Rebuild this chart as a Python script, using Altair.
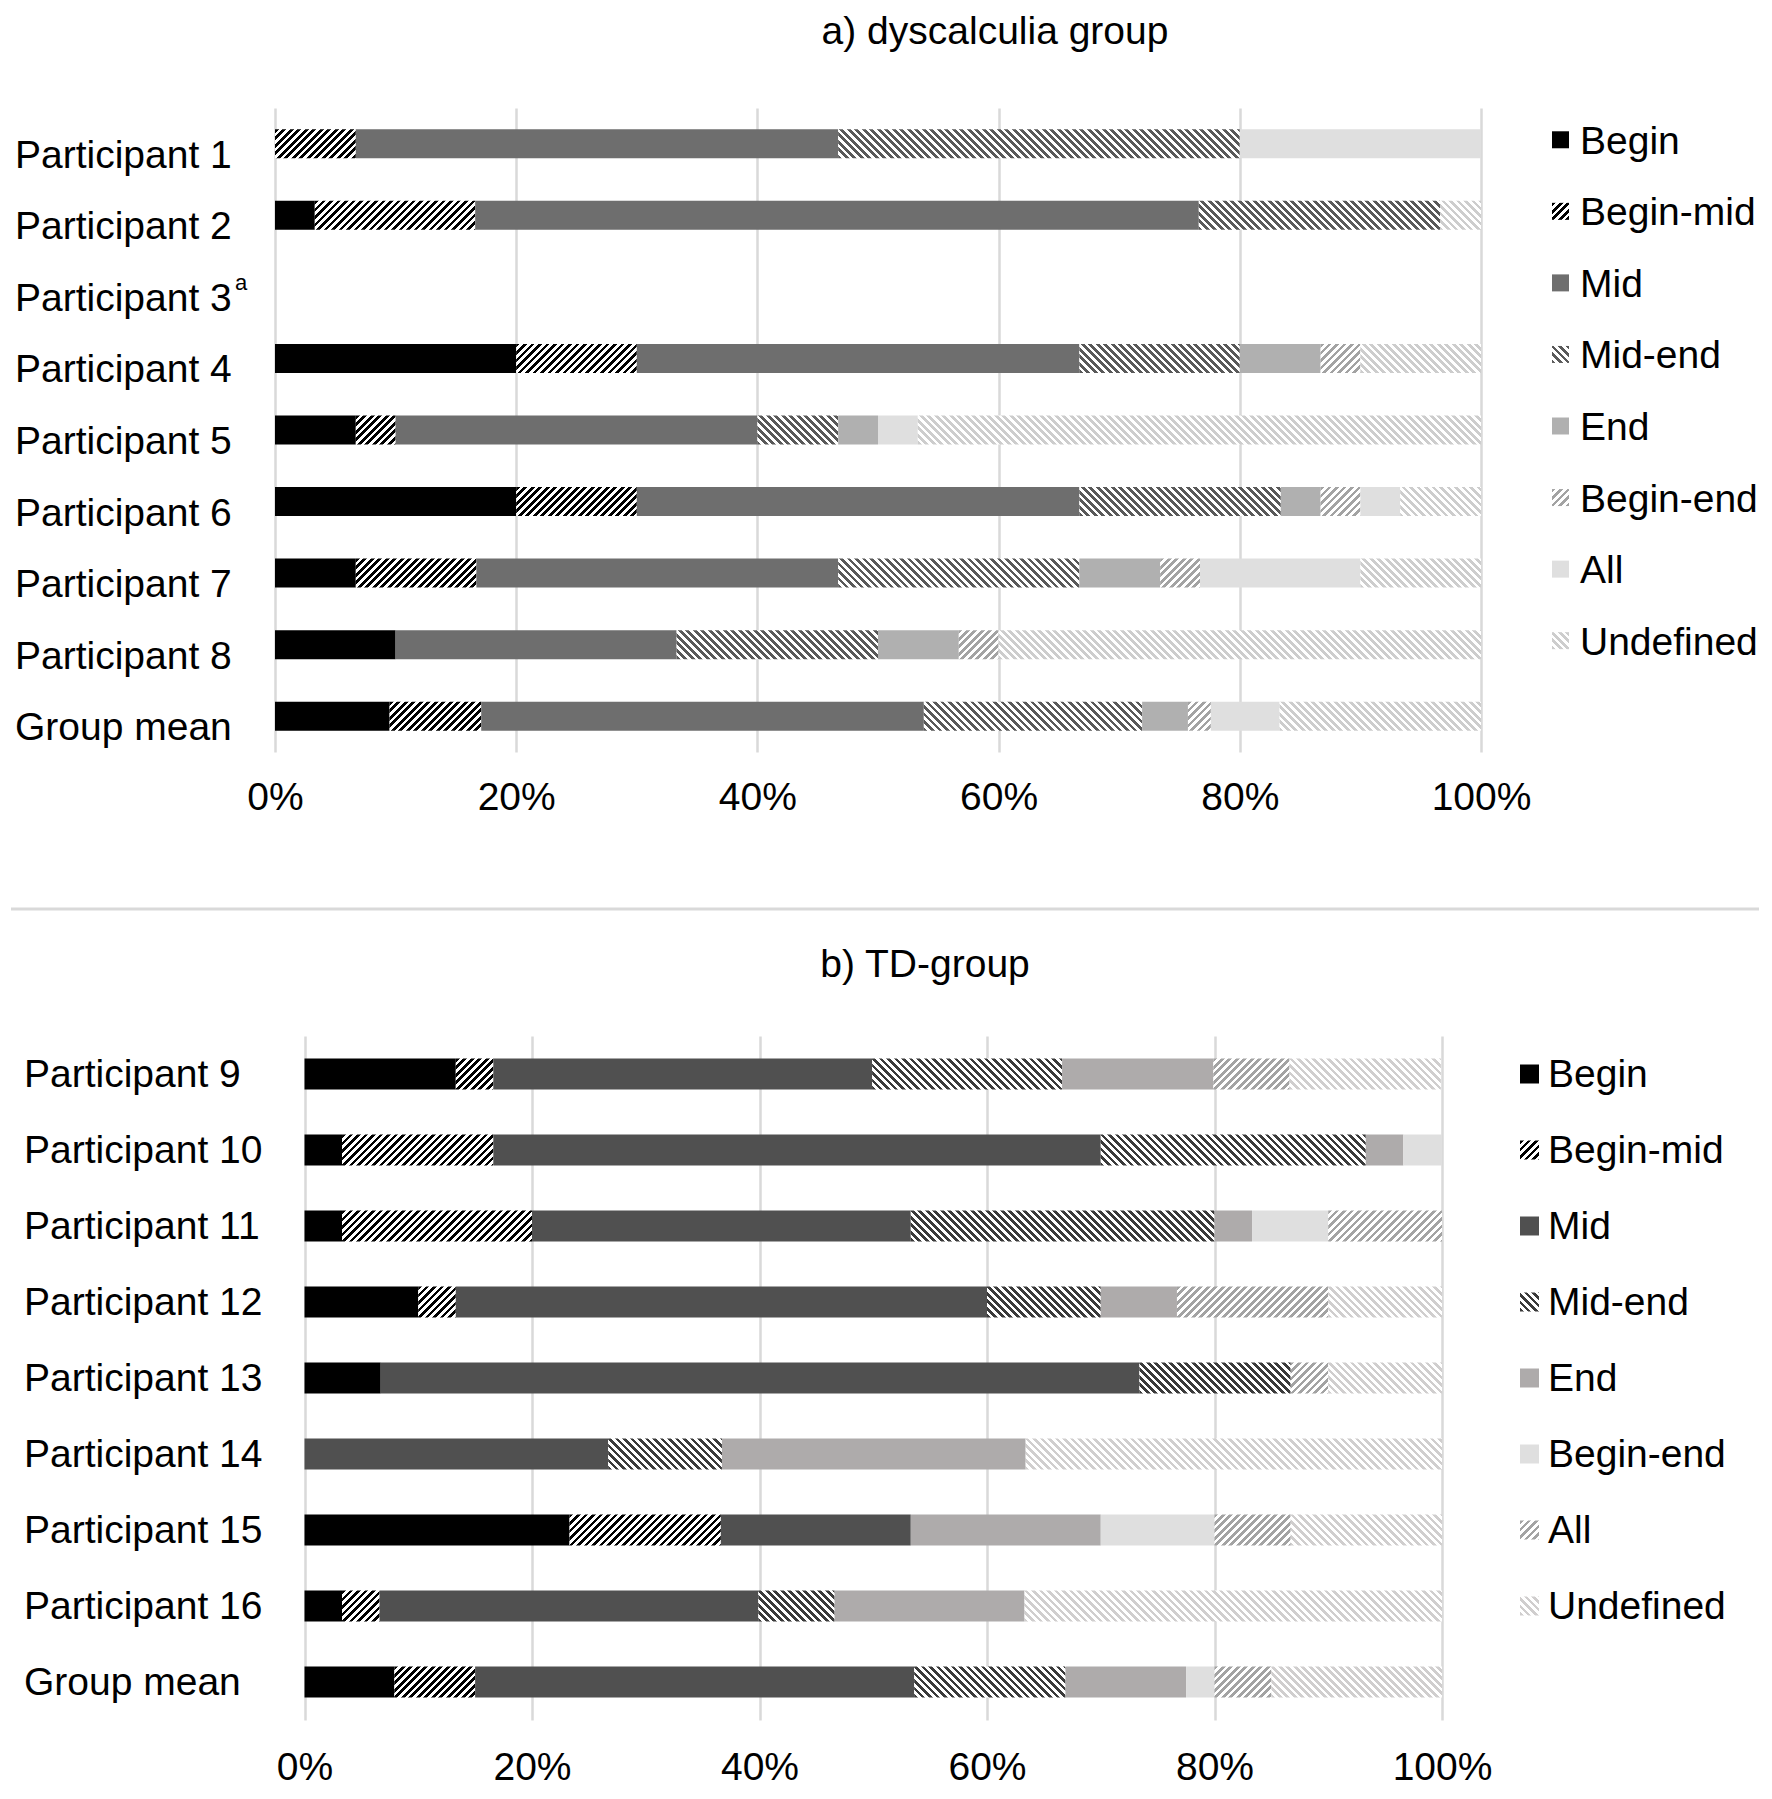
import altair as alt

FONT = "Liberation Sans"
FS = 39

categories = ["Begin", "Begin-mid", "Mid", "Mid-end", "End", "Begin-end", "All", "Undefined"]

# ---------------- panel a) dyscalculia group (percent of responses) ----------------
rows_a = ["Participant 1", "Participant 2", "Participant 3", "Participant 4", "Participant 5",
          "Participant 6", "Participant 7", "Participant 8", "Group mean"]
begin_a     = [0, 3.3, 0, 20, 6.7, 20, 6.7, 10, 9.5]
begin_mid_a = [6.7, 13.3, 0, 10, 3.3, 10, 10, 0, 7.6]
mid_a       = [40, 60, 0, 36.7, 30, 36.7, 30, 23.3, 36.7]
mid_end_a   = [33.3, 20, 0, 13.3, 6.7, 16.7, 20, 16.7, 18.1]
end_a       = [0, 0, 0, 6.7, 3.3, 3.3, 6.7, 6.7, 3.8]
begin_end_a = [0, 0, 0, 3.3, 0, 3.3, 3.3, 3.3, 1.9]
all_a       = [20, 0, 0, 0, 3.3, 3.3, 13.3, 0, 5.7]
undefined_a = [0, 3.4, 0, 10, 46.7, 6.7, 10, 40, 16.7]

# ---------------- panel b) TD-group ----------------
rows_b = ["Participant 9", "Participant 10", "Participant 11", "Participant 12", "Participant 13",
          "Participant 14", "Participant 15", "Participant 16", "Group mean"]
begin_b     = [13.3, 3.3, 3.3, 10, 6.7, 0, 23.3, 3.3, 7.9]
begin_mid_b = [3.3, 13.3, 16.7, 3.3, 0, 0, 13.3, 3.3, 7.1]
mid_b       = [33.3, 53.4, 33.3, 46.7, 66.7, 26.7, 16.7, 33.3, 38.6]
mid_end_b   = [16.7, 23.3, 26.7, 10, 13.3, 10, 0, 6.7, 13.3]
end_b       = [13.3, 3.3, 3.3, 6.7, 0, 26.7, 16.7, 16.7, 10.6]
begin_end_b = [0, 3.4, 6.7, 0, 0, 0, 10, 0, 2.5]
all_b       = [6.7, 0, 10, 13.3, 3.3, 0, 6.7, 0, 5.0]
undefined_b = [13.3, 0, 0, 10, 10, 36.6, 13.3, 36.7, 15.0]

# fill styles: (pattern, colour); "/" and "\\" are diagonal hatches on white
style_a = {"Begin": ("solid", "#000000"), "Begin-mid": ("/", "#000000"),
           "Mid": ("solid", "#6e6e6e"), "Mid-end": ("\\", "#595959"),
           "End": ("solid", "#b0b0b0"), "Begin-end": ("/", "#a3a3a3"),
           "All": ("solid", "#dfdfdf"), "Undefined": ("\\", "#cdcdcd")}
style_b = {"Begin": ("solid", "#000000"), "Begin-mid": ("/", "#000000"),
           "Mid": ("solid", "#505050"), "Mid-end": ("\\", "#3a3a3a"),
           "End": ("solid", "#aeabab"), "Begin-end": ("solid", "#dfdfdf"),
           "All": ("/", "#a3a3a3"), "Undefined": ("\\", "#d0cece")}

PERIOD = 7.5


def fill_for(style, w, h):
    kind, color = style
    if kind == "solid" or w <= 0:
        return color
    r = w / h
    s = (r + 1) / (r * r + 1)
    L = w + h
    stops = []
    k = 0
    while k * PERIOD < L:
        a = k * PERIOD / L
        b = min((k + 0.5) * PERIOD / L, 1)
        c = min((k + 1) * PERIOD / L, 1)
        stops += [{"offset": round(a, 5), "color": color}, {"offset": round(b, 5), "color": color},
                  {"offset": round(b, 5), "color": "#ffffff"}, {"offset": round(c, 5), "color": "#ffffff"}]
        k += 1
    if kind == "/":
        return {"gradient": "linear", "x1": 0, "y1": 0, "x2": s * r, "y2": s, "stops": stops}
    return {"gradient": "linear", "x1": 0, "y1": 1, "x2": s * r, "y2": 1 - s, "stops": stops}


def panel(rows, series, style, x0, W, H, pad_inner, cfg):
    n = len(rows)
    step = H / n
    bar_h = step * (1 - pad_inner)
    segs = []
    for i, row in enumerate(rows):
        acc = 0.0
        for cat, vals in zip(categories, series):
            v = vals[i]
            if v > 0:
                segs.append({"row": row, "cat": cat, "start": acc, "end": acc + v,
                             "grad": fill_for(style[cat], v / 100 * W, bar_h)})
            acc += v
    yscale = alt.Scale(domain=rows, paddingInner=pad_inner, paddingOuter=pad_inner / 2)

    def Y():
        return alt.Y("row:N", scale=yscale, axis=None, sort=rows)

    bars = alt.Chart(alt.Data(values=segs)).mark_bar(strokeWidth=0).encode(
        x=alt.X("start:Q", scale=alt.Scale(domain=[0, 100], nice=False, range=[x0, x0 + W]),
                axis=alt.Axis(values=[0, 20, 40, 60, 80, 100], labelExpr="datum.value + '%'",
                              grid=True, gridColor="#d9d9d9", gridWidth=2.5, domain=False,
                              ticks=False, tickSize=0, labelFlush=False,
                              labelPadding=cfg["xlab_pad"], labelFontSize=FS, labelFont=FONT,
                              labelColor="#000000"),
                title=None),
        x2="end:Q",
        y=Y(),
        fill=alt.Fill("grad:N", scale=None),
    )

    labels = alt.Chart(alt.Data(values=[{"row": r} for r in rows])).mark_text(
        align="left", baseline="alphabetic", fontSize=FS, font=FONT, color="#000000",
        dy=cfg["label_dy"]).encode(
        x=alt.value(cfg["label_x"]), y=Y(), text="row:N")

    leg_side = cfg["leg_size"]
    leg = [{"row": rows[i], "cat": c, "grad": fill_for(style[c], leg_side, leg_side)}
           for i, c in enumerate(categories)]
    leg_sq = alt.Chart(alt.Data(values=leg)).mark_square(
        size=leg_side * leg_side, opacity=1, filled=True, strokeWidth=0,
        yOffset=cfg["leg_yoff"]).encode(
        x=alt.value(cfg["leg_x"]), y=Y(), fill=alt.Fill("grad:N", scale=None))
    leg_tx = alt.Chart(alt.Data(values=leg)).mark_text(
        align="left", baseline="alphabetic", fontSize=FS, font=FONT, color="#000000",
        dy=cfg["leg_dy"]).encode(
        x=alt.value(cfg["leg_tx"]), y=Y(), text="cat:N")

    title = alt.Chart(alt.Data(values=[{"t": cfg["title"]}])).mark_text(
        align="center", baseline="alphabetic", fontSize=FS, font=FONT, color="#000000").encode(
        x=alt.value(cfg["title_x"]), y=alt.value(cfg["title_y"]), text="t:N")

    layers = [bars, labels, leg_sq, leg_tx, title] + cfg["extra"]
    return alt.layer(*layers).properties(width=x0 + W, height=H)


one = alt.Data(values=[{"k": 1}])

# panel a extras: invisible frame rule (sets left/bottom extent) and superscript "a"
frame_a = alt.Chart(one).mark_rule(color="#ffffff", strokeWidth=1).encode(
    x=alt.value(-266), x2=alt.value(-266), y=alt.value(-99), y2=alt.value(798))
sup_a = alt.Chart(alt.Data(values=[{"row": "Participant 3", "s": "a"}])).mark_text(
    align="left", baseline="alphabetic", fontSize=22, font=FONT, color="#000000", dy=3).encode(
    x=alt.value(-40),
    y=alt.Y("row:N", scale=alt.Scale(domain=rows_a, paddingInner=0.595, paddingOuter=0.2975),
            axis=None, sort=rows_a),
    text="s:N")

panel_a = panel(rows_a, [begin_a, begin_mid_a, mid_a, mid_end_a, end_a, begin_end_a, all_a, undefined_a],
                style_a, 0, 1206, 644, 0.595,
                {"xlab_pad": 26, "label_dy": 24, "label_x": -260, "leg_size": 17, "leg_yoff": -4,
                 "leg_x": 1285.5, "leg_tx": 1305, "leg_dy": 10, "title": "a) dyscalculia group",
                 "title_x": 720, "title_y": -64, "extra": [frame_a, sup_a]})

# panel b extra: the grey separator line above its title
sep_b = alt.Chart(one).mark_rule(color="#d9d9d9", strokeWidth=3).encode(
    x=alt.value(-264), x2=alt.value(1484), y=alt.value(-127))

panel_b = panel(rows_b, [begin_b, begin_mid_b, mid_b, mid_end_b, end_b, begin_end_b, all_b, undefined_b],
                style_b, 29.5, 1137.5, 684, 0.592,
                {"xlab_pad": 28, "label_dy": 13, "label_x": -251, "leg_size": 19, "leg_yoff": 0,
                 "leg_x": 1254.5, "leg_tx": 1273, "leg_dy": 13, "title": "b) TD-group",
                 "title_x": 650, "title_y": -59, "extra": [sep_b]})

chart = alt.vconcat(panel_a, panel_b, spacing=0).properties(
    padding={"top": 0, "left": 0, "right": 0, "bottom": 0}, background="#ffffff"
).configure(font=FONT).configure_view(stroke="transparent", strokeWidth=0)

chart.save("out.html", embed_options={"renderer": "svg", "actions": False})
